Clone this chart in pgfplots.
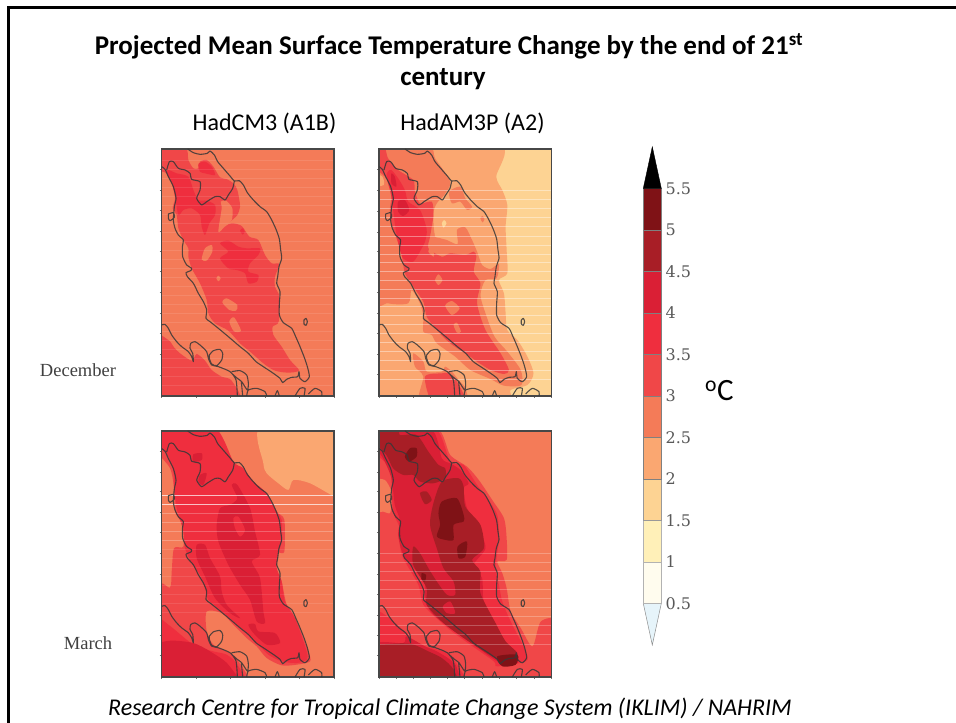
\documentclass[border=0pt]{standalone}
\usepackage{pgfplots}
\usepackage{pgfplotstable}
\usepackage{fontspec}
\pgfplotsset{compat=1.18}
\setmainfont{Carlito}
\newfontfamily\dejaserif{DejaVu Serif}
\newfontfamily\libserif{Liberation Serif}
\definecolor{Ca}{HTML}{E6F4FA}
\definecolor{Cb}{HTML}{FFFCEE}
\definecolor{Cc}{HTML}{FFF0B8}
\definecolor{Cd}{HTML}{FDD393}
\definecolor{Ce}{HTML}{FAA771}
\definecolor{Cf}{HTML}{F47B58}
\definecolor{Cg}{HTML}{F04748}
\definecolor{Ch}{HTML}{EF2E3E}
\definecolor{Ci}{HTML}{DA1F35}
\definecolor{Cj}{HTML}{A81E26}
\definecolor{Ck}{HTML}{7F1216}
\newcommand\R[2]{\addplot[fill=#1,draw=none,smooth cycle,tension=.45] coordinates {#2};}
\newcommand\Stripes[2]{\pgfplotsinvokeforeach{#2}{\addplot[white,opacity=#1,line width=.7pt] coordinates {(0,##1) (600,##1)};}}
\pgfplotstableread{
x y
35 80
45 88
55 110
70 140
78 175
73 200
70 240
75 265
85 285
100 300
97 320
98 350
110 375
125 385
122 392
108 398
112 410
130 430
145 460
160 485
170 510
168 535
180 545
205 565
235 590
270 620
295 640
318 665
340 680
370 700
390 715
398 728
410 718
425 712
443 710
447 695
450 715
465 725
478 710
472 680
462 650
448 615
437 590
425 565
400 548
388 525
388 490
390 455
380 430
383 410
387 380
395 355
392 330
388 297
378 268
365 240
350 215
330 200
310 180
292 158
280 135
268 122
253 123
240 108
220 85
203 65
193 45
180 33
172 40
150 43
130 38
113 27
nan nan
50 90
58 65
70 65
85 85
105 90
120 100
125 118
150 125
150 150
140 175
155 195
170 185
195 170
210 170
225 180
235 165
248 145
253 123
nan nan
55 222
70 218
73 232
60 242
55 235
55 222
nan nan
35 555
45 553
55 565
65 585
80 605
95 620
115 635
125 650
130 665
128 640
120 625
122 610
135 605
150 615
170 635
175 655
185 675
205 680
240 695
258 720
262 768
nan nan
178 645
190 632
210 628
218 640
215 660
200 677
185 672
178 655
178 645
nan nan
245 695
270 692
290 705
295 730
292 750
275 725
262 715
245 700
nan nan
274 725
278 768
nan nan
290 768
295 750
320 745
345 755
350 768
nan nan
375 768
382 752
388 768
nan nan
435 768
450 745
465 745
462 768
nan nan
475 762
495 745
515 755
515 768
nan nan
462 540
468 535
472 545
468 556
462 552
462 540
}\coast
\pgfplotsset{
 every axis plot/.append style={no markers},
 panel/.style={scale only axis,width=172.3pt,height=#1,anchor=south west,axis on top,
   axis line style={draw=black!72,line width=1.3pt},tick style={draw=black!55,line width=.5pt},
   tick align=outside,major tick length=2pt,xtick pos=left,ytick pos=left,
   xticklabels={},yticklabels={},y dir=reverse},
 coastax/.style={scale only axis,width=172.3pt,height=#1,anchor=south west,hide axis,y dir=reverse,
   xmin=35,xmax=552,ymin=27,ymax=768,unbounded coords=jump},
}
\newcommand\Coast{\addplot[draw=black!78,line width=1.1pt,opacity=.85,line join=round,smooth,tension=.4] table {\coast};}
\begin{document}
\begin{tikzpicture}[x=1pt,y=1pt]
\useasboundingbox (0,0) rectangle (956,723);
\draw[black,line width=3pt] (8.5,0) -- (8.5,715) -- (956,715);
% ------ titles
\node[anchor=base,inner sep=0] at (449,723-55) {\fontsize{27}{30}\selectfont\bfseries Projected Mean Surface Temperature Change by the end of 21\textsuperscript{st}};
\node[anchor=base,inner sep=0] at (443,723-86) {\fontsize{27}{30}\selectfont\bfseries century};
\node[anchor=base,inner sep=0] at (264.5,723-130.5) {\fontsize{24}{26}\selectfont HadCM3 (A1B)};
\node[anchor=base,inner sep=0] at (472.5,723-130.5) {\fontsize{24}{26}\selectfont HadAM3P (A2)};
\node[anchor=base,inner sep=0,text=black!75] at (78,723-377) {\fontsize{18.5}{20}\selectfont\libserif December};
\node[anchor=base,inner sep=0,text=black!75] at (88,723-650) {\fontsize{18.5}{20}\selectfont\libserif March};
\node[anchor=base west,inner sep=0] at (705,723-401) {\fontsize{31}{33}\selectfont \textsuperscript{o}C};
\node[anchor=base,inner sep=0] at (450,723-715) {\fontsize{24}{26}\selectfont\itshape Research Centre for Tropical Climate Change System (IKLIM) / NAHRIM};
% ------ panel 1
\begin{axis}[panel=247pt,at={(161.7pt,327pt)},xmin=35,xmax=552,ymin=27,ymax=768,
  ytick={88,150,212,274,335,395,457,519,581,643,705},xtick={35,138,241,345,448,552}]
\R{Cf}{(0,0)(600,0)(600,800)(0,800)}
\R{Cg}{(20,10)(105,20)(115,60)(130,85)(145,85)(150,65)(170,60)(190,80)(210,112)(232,118)(252,132)(262,150)(268,180)(270,200)(262,225)(240,245)(215,262)(245,250)(275,258)(298,290)(325,300)(345,345)(365,370)(388,372)(375,410)(375,440)(388,470)(386,545)(368,560)(370,585)(395,620)(420,660)(447,690)(430,697)(400,697)(370,690)(340,670)(300,635)(270,610)(235,572)(195,550)(175,520)(170,480)(150,430)(125,385)(115,350)(115,325)(100,300)(85,265)(80,225)(68,205)(75,175)(70,140)(50,100)(20,85)}
\R{Cf}{(205,275)(215,205)(212,185)(228,182)(247,205)(245,240)(222,262)}
\R{Cf}{(155,358)(165,325)(185,315)(187,335)(170,362)}
\R{Cf}{(217,487)(230,475)(262,495)(258,512)(238,510)}
\R{Cf}{(238,545)(252,532)(273,572)(252,574)}
\R{Cf}{(199,415)(205,407)(212,415)(205,424)}
\R{Cg}{(10,590)(55,600)(72,622)(90,640)(125,662)(140,642)(165,662)(185,690)(215,710)(245,722)(262,790)(10,790)}
\R{Ch}{(50,100)(55,90)(80,100)(115,110)(130,150)(145,180)(170,182)(195,195)(195,225)(178,250)(165,285)(155,260)(150,225)(125,205)(100,210)(85,225)(75,170)(65,130)}
\R{Ch}{(210,310)(235,302)(265,320)(290,325)(330,325)(325,345)(300,370)(295,395)(325,405)(320,425)(295,430)(285,400)(260,390)(235,385)(210,355)(235,335)}
\R{Ch}{(145,72)(165,65)(185,80)(195,105)(165,100)(150,95)}
\R{Ch}{(270,272)(278,265)(284,275)(278,284)}
\Stripes{.1}{60,87,114,141,168,195,222,249,276,303,330,357,384,411,438,465,492,519,546,573,600,627,654,681,708,735}
\end{axis}
\begin{axis}[coastax=247pt,at={(161.7pt,327pt)}]\Coast\end{axis}
% ------ panel 2
\begin{axis}[panel=247pt,at={(379pt,327pt)},xmin=28,xmax=541,ymin=27,ymax=768,
  ytick={88,152,213,277,335,397,458,520,581,644,704},xtick={28,79,130,181,232,283,335,386,438,490,541}]
\R{Cd}{(0,0)(600,0)(600,800)(0,800)}
\R{Ce}{(10,10)(385,10)(377,110)(395,150)(410,195)(405,260)(408,330)(410,400)(385,420)(400,460)(405,520)(410,570)(440,600)(470,650)(488,700)(470,735)(420,750)(395,790)(10,790)}
\R{Cf}{(10,10)(175,20)(195,55)(240,125)(222,165)(200,190)(190,220)(195,285)(230,300)(262,312)(260,270)(285,262)(305,300)(320,335)(335,375)(360,387)(385,372)(378,415)(345,420)(330,465)(345,520)(372,590)(410,635)(450,690)(452,735)(400,737)(360,717)(300,690)(255,650)(200,610)(185,585)(160,575)(160,530)(150,490)(125,450)(115,490)(55,490)(10,465)}
\R{Cf}{(130,640)(160,665)(170,695)(215,695)(225,680)(245,695)(265,720)(285,745)(285,790)(150,790)(160,710)(135,680)}
\R{Cf}{(237,155)(270,140)(285,175)(305,200)(290,210)(270,185)(245,190)}
\R{Cf}{(330,235)(336,228)(342,238)(336,247)}
\R{Ce}{(10,100)(38,110)(42,135)(10,137)}
\R{Ce}{(195,290)(200,250)(225,235)(237,265)(225,290)}
\R{Cg}{(10,10)(45,25)(55,55)(85,90)(130,120)(135,155)(150,190)(185,185)(190,225)(180,290)(175,325)(215,350)(240,340)(285,345)(310,335)(318,350)(310,395)(330,430)(320,490)(345,570)(390,640)(415,690)(400,702)(360,690)(320,665)(300,650)(240,610)(200,570)(170,530)(160,485)(130,440)(105,400)(100,370)(90,320)(70,270)(60,215)(65,170)(55,120)(10,75)}
\R{Cf}{(175,335)(183,320)(192,340)(190,350)}
\R{Cf}{(225,497)(245,483)(268,505)(245,525)}
\R{Cf}{(250,555)(260,548)(272,575)(260,578)}
\R{Cf}{(195,420)(205,403)(217,420)(205,435)}
\R{Cd}{(215,250)(222,240)(229,250)(220,263)}
\R{Cg}{(165,710)(215,700)(235,700)(260,725)(285,790)(190,790)}
\R{Ch}{(55,95)(65,90)(85,115)(105,150)(115,185)(150,210)(170,268)(165,305)(155,325)(130,365)(100,355)(85,310)(75,250)(65,170)(50,110)}
\R{Ci}{(85,185)(105,180)(118,210)(100,228)(85,215)}
\R{Ci}{(65,100)(75,110)(80,140)(65,130)}
\Stripes{.4}{152,179,206,233,260,288,315,342,368,394,420,447,474,500,527,554,581,608,635,662,690,718}
\end{axis}
\begin{axis}[coastax=247pt,at={(379pt,327pt)}]\Coast\end{axis}
% ------ panel 3
\begin{axis}[panel=246pt,at={(161.7pt,46pt)},xmin=35,xmax=552,ymin=18,ymax=757,
  ytick={79,141,199,262,322,385,447,509,571,633,693},xtick={35,138,241,345,448,552}]
\R{Cf}{(0,0)(600,0)(600,800)(0,800)}
\R{Ce}{(335,0)(600,0)(600,240)(552,215)(480,175)(430,165)(415,195)(385,175)(350,145)(340,115)}
\R{Cg}{(20,0)(190,5)(250,110)(280,130)(310,170)(350,205)(380,260)(403,285)(403,380)(385,385)(380,430)(395,470)(410,540)(440,590)(475,680)(480,710)(440,720)(395,722)(350,700)(320,665)(290,640)(250,600)(215,565)(170,560)(170,620)(190,660)(230,680)(262,705)(290,790)(20,790)(20,490)(60,488)(65,440)(72,370)(100,365)(97,300)(75,260)(72,190)(60,130)(20,75)}
\R{Ch}{(20,0)(190,5)(250,110)(280,130)(310,170)(350,205)(380,260)(395,285)(395,350)(385,385)(380,430)(395,470)(405,530)(435,580)(470,680)(470,705)(440,715)(395,710)(355,690)(320,655)(290,625)(250,590)(215,560)(175,525)(165,490)(150,450)(125,415)(105,370)(100,320)(90,285)(80,250)(72,190)(70,140)(50,85)(20,60)}
\R{Ch}{(20,590)(55,600)(130,660)(190,680)(230,690)(262,720)(280,790)(20,790)}
\R{Ci}{(20,668)(60,648)(130,655)(180,680)(235,720)(262,790)(20,790)}
\R{Ci}{(245,180)(262,180)(300,250)(315,320)(330,390)(305,410)(330,460)(340,560)(345,595)(320,590)(300,525)(270,480)(235,420)(205,350)(200,300)(210,250)(240,240)(262,220)}
\R{Ch}{(250,280)(265,275)(285,315)(270,335)(255,310)}
\R{Ci}{(140,360)(165,360)(180,400)(210,455)(215,500)(230,540)(270,580)(240,565)(195,520)(165,455)(140,400)}
\R{Ci}{(295,600)(315,598)(325,620)(375,625)(390,655)(350,660)(310,625)}
\R{Ci}{(130,88)(155,85)(155,105)(130,110)}
\R{Ci}{(150,150)(170,145)(160,180)(145,170)}
\Stripes{.7}{211,237}
\Stripes{.25}{265,292,320,347}
\Stripes{.1}{374,401,428,455,482,509,536,563}
\end{axis}
\begin{axis}[coastax=246pt,at={(161.7pt,46pt)}]\Coast\end{axis}
% ------ panel 4
\begin{axis}[panel=246pt,at={(379pt,46pt)},xmin=28,xmax=541,ymin=18,ymax=757,
  ytick={79,141,199,262,322,385,447,509,571,633,693},xtick={28,79,130,181,232,283,335,386,438,490,541}]
\R{Cf}{(0,0)(600,0)(600,800)(0,800)}
\R{Cg}{(10,0)(195,5)(240,90)(290,125)(325,165)(365,225)(400,280)(408,340)(408,405)(380,410)(395,445)(408,490)(420,560)(450,610)(485,665)(510,590)(560,595)(560,790)(10,790)}
\R{Cf}{(10,170)(45,165)(65,200)(65,240)(60,265)(40,260)(10,260)}
\R{Ch}{(10,0)(190,5)(240,110)(280,120)(320,180)(350,220)(380,270)(385,340)(378,400)(375,430)(385,480)(395,530)(420,590)(465,680)(465,710)(380,725)(370,710)(300,660)(245,620)(210,590)(160,540)(145,480)(100,400)(90,360)(90,310)(70,260)(65,170)(60,125)(10,75)}
\R{Ci}{(10,0)(180,10)(215,100)(240,115)(270,135)(295,175)(280,190)(290,250)(325,310)(345,370)(310,420)(335,460)(340,530)(375,600)(400,650)(440,690)(440,715)(400,720)(350,690)(300,650)(240,610)(190,570)(165,530)(165,480)(140,440)(100,390)(85,330)(90,285)(75,240)(65,160)(40,100)(10,55)}
\R{Cj}{(10,0)(85,5)(90,30)(140,30)(175,80)(205,120)(225,130)(225,160)(190,175)(150,170)(130,150)(100,150)(70,130)(50,90)(10,45)}
\R{Cj}{(150,205)(170,200)(185,225)(165,238)}
\R{Cj}{(215,170)(265,160)(280,185)(285,245)(330,300)(340,370)(305,405)(330,440)(330,505)(375,595)(405,650)(440,685)(430,710)(400,715)(340,680)(280,640)(220,595)(170,540)(170,490)(130,420)(130,365)(150,385)(175,430)(200,470)(230,510)(255,510)(250,470)(220,430)(200,370)(180,300)(190,235)}
\R{Ci}{(218,545)(240,530)(255,565)(230,565)}
\R{Ck}{(205,265)(215,230)(260,220)(280,270)(280,290)(250,300)(250,345)(225,345)(200,335)(210,300)}
\R{Ck}{(262,365)(290,350)(285,395)(265,400)}
\R{Ck}{(120,70)(140,70)(140,95)(118,110)(105,95)}
\R{Ck}{(155,445)(168,450)(165,470)(155,465)}
\R{Ck}{(380,695)(440,690)(435,720)(395,725)}
\R{Ch}{(10,560)(110,625)(125,650)(165,665)(230,685)(270,735)(280,790)(10,790)}
\R{Ci}{(110,635)(165,665)(200,680)(240,705)(260,730)(255,790)(10,790)(10,660)(100,655)}
\R{Cj}{(10,672)(60,658)(125,658)(175,680)(215,700)(250,735)(250,790)(10,790)}
\Stripes{.25}{385,412,440,467,495,521,548,575,603,630,658}
\end{axis}
\begin{axis}[coastax=246pt,at={(379pt,46pt)}]\Coast\end{axis}
% ------ colour bar
\begin{axis}[scale only axis,width=18pt,height=499pt,anchor=south west,at={(643.3pt,78pt)},
  xmin=0,xmax=1,ymin=0,ymax=6.01,axis x line=none,axis y line=right,
  y axis line style={draw=none},tick style={draw=none},clip=false,
  ytick={0.5,1,1.5,2,2.5,3,3.5,4,4.5,5,5.5},
  yticklabels={0.5,1,1.5,2,2.5,3,3.5,4,4.5,5,5.5},
  yticklabel style={font=\fontsize{16}{18}\selectfont\dejaserif,text=black!65,inner xsep=2pt}]
\addplot[fill=Ca,draw=black!45,line width=.5pt] coordinates {(0,.5)(1,.5)(.5,0)} --cycle;
\addplot[fill=Cb,draw=black!30,line width=.5pt] coordinates {(0,.5)(1,.5)(1,1)(0,1)} --cycle;
\addplot[fill=Cc,draw=black!30,line width=.5pt] coordinates {(0,1)(1,1)(1,1.5)(0,1.5)} --cycle;
\addplot[fill=Cd,draw=black!40,line width=.5pt] coordinates {(0,1.5)(1,1.5)(1,2)(0,2)} --cycle;
\addplot[fill=Ce,draw=black!50,line width=.5pt] coordinates {(0,2)(1,2)(1,2.5)(0,2.5)} --cycle;
\addplot[fill=Cf,draw=black!50,line width=.5pt] coordinates {(0,2.5)(1,2.5)(1,3)(0,3)} --cycle;
\addplot[fill=Cg,draw=black!50,line width=.5pt] coordinates {(0,3)(1,3)(1,3.5)(0,3.5)} --cycle;
\addplot[fill=Ch,draw=black!50,line width=.5pt] coordinates {(0,3.5)(1,3.5)(1,4)(0,4)} --cycle;
\addplot[fill=Ci,draw=black!50,line width=.5pt] coordinates {(0,4)(1,4)(1,4.5)(0,4.5)} --cycle;
\addplot[fill=Cj,draw=black!50,line width=.5pt] coordinates {(0,4.5)(1,4.5)(1,5)(0,5)} --cycle;
\addplot[fill=Ck,draw=black!50,line width=.5pt] coordinates {(0,5)(1,5)(1,5.5)(0,5.5)} --cycle;
\addplot[fill=black,draw=black] coordinates {(0,5.5)(1,5.5)(.5,6)} --cycle;
\end{axis}
\end{tikzpicture}
\end{document}
